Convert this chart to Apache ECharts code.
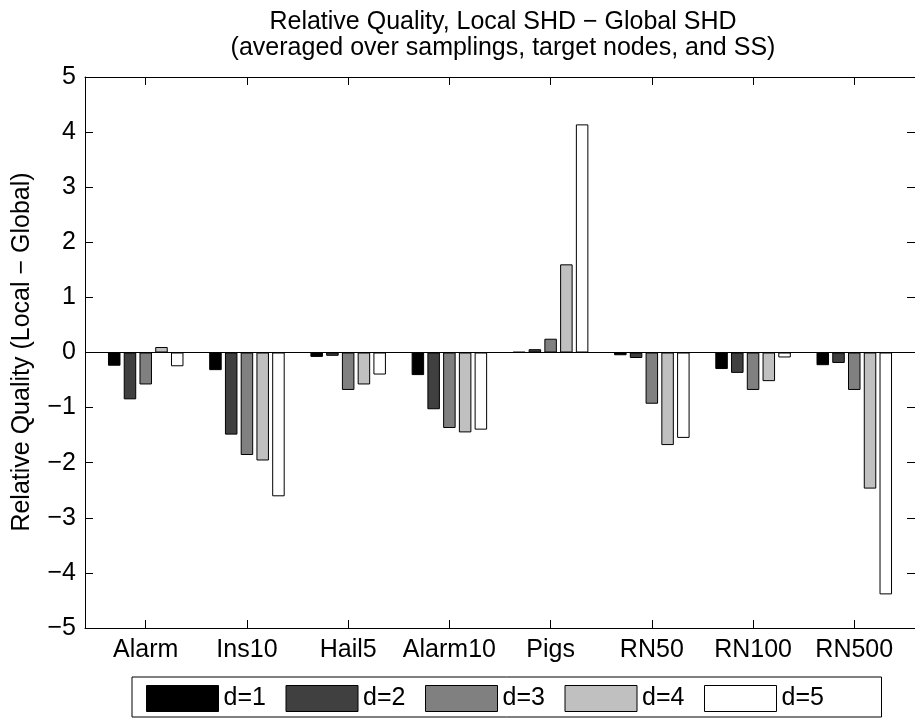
<!DOCTYPE html>
<html>
<head>
<meta charset="utf-8">
<script src="https://cdn.jsdelivr.net/npm/echarts@6/dist/echarts.min.js"></script>
<style>
  html, body { margin: 0; padding: 0; background: #fff; }
  #chart { width: 915px; height: 723px; }
</style>
</head>
<body>
<div id="chart"></div>
<script>
// Networks compared, one group of bars each
const categories = ['Alarm', 'Ins10', 'Hail5', 'Alarm10', 'Pigs', 'RN50', 'RN100', 'RN500'];
const seriesNames = ['d=1', 'd=2', 'd=3', 'd=4', 'd=5'];

// Relative quality (Local SHD - Global SHD) per network, one array per depth d
const d1 = [-0.24, -0.32, -0.08, -0.41, 0.01, -0.05, -0.30, -0.23];
const d2 = [-0.85, -1.49, -0.06, -1.03, 0.06, -0.10, -0.37, -0.19];
const d3 = [-0.58, -1.86, -0.68, -1.37, 0.25, -0.93, -0.68, -0.68];
const d4 = [0.10, -1.96, -0.58, -1.45, 1.60, -1.68, -0.52, -2.47];
const d5 = [-0.25, -2.61, -0.40, -1.40, 4.14, -1.55, -0.09, -4.39];

const yTicks = [-5, -4, -3, -2, -1, 0, 1, 2, 3, 4, 5];

const seriesValues = [d1, d2, d3, d4, d5];
const fills = ['#000000', '#404040', '#808080', '#c0c0c0', '#ffffff'];
const FONT = 'Liberation Sans, Arial, Helvetica, sans-serif';
const FS = 25;

// category positions on the numeric x axis are 1..N
const catPos = categories.map((c, i) => i + 1);
const fmtNum = v => (v < 0 ? '\u2212' + Math.abs(v) : String(v));

const chart = echarts.init(document.getElementById('chart'), null, { renderer: 'canvas' });

const axisLineStyle = { color: '#000', width: 1 };

const option = {
  backgroundColor: '#fff',
  animation: false,
  textStyle: { fontFamily: FONT, color: '#000' },
  grid: { left: 85, top: 77, right: -7, bottom: 95, containLabel: false },
  xAxis: [
    {
      type: 'value', position: 'bottom', min: 0.4, max: 8.6,
      axisLine: { show: true, onZero: false, lineStyle: axisLineStyle },
      axisTick: { show: true, inside: true, length: 8, lineStyle: axisLineStyle, customValues: catPos },
      axisLabel: {
        show: true, customValues: catPos, margin: 10,
        fontSize: FS, fontFamily: FONT, color: '#000',
        formatter: v => categories[Math.round(v) - 1] || ''
      },
      splitLine: { show: false }
    },
    {
      type: 'value', position: 'top', min: 0.4, max: 8.6,
      axisLine: { show: true, onZero: false, lineStyle: axisLineStyle },
      axisTick: { show: true, inside: true, length: 8, lineStyle: axisLineStyle, customValues: catPos },
      axisLabel: { show: false },
      splitLine: { show: false }
    }
  ],
  yAxis: [
    {
      type: 'value', position: 'left', min: yTicks[0], max: yTicks[yTicks.length - 1], interval: 1,
      axisLine: { show: true, onZero: false, lineStyle: axisLineStyle },
      axisTick: { show: true, inside: true, length: 8, lineStyle: axisLineStyle },
      axisLabel: { show: true, margin: 9, fontSize: FS, fontFamily: FONT, color: '#000', formatter: fmtNum },
      splitLine: { show: false }
    },
    {
      type: 'value', position: 'right', min: yTicks[0], max: yTicks[yTicks.length - 1], interval: 1,
      axisLine: { show: true, onZero: false, lineStyle: axisLineStyle },
      axisTick: { show: true, inside: true, length: 8, lineStyle: axisLineStyle },
      axisLabel: { show: false },
      splitLine: { show: false }
    }
  ],
  legend: {
    show: true,
    left: 132, top: 677,
    orient: 'horizontal',
    padding: [8, 48, 5, 14],
    itemWidth: 72, itemHeight: 26, itemGap: 10,
    borderColor: '#000', borderWidth: 1, backgroundColor: '#fff',
    icon: 'rect',
    textStyle: { fontSize: FS, fontFamily: FONT, color: '#000', width: 52, lineHeight: 26 },
    data: seriesNames.map((n, i) => ({
      name: n, icon: 'rect',
      itemStyle: { color: fills[i], borderColor: '#000', borderWidth: 1 }
    }))
  },
  graphic: [
    {
      type: 'text', x: 503, y: 9, z: 10,
      style: {
        text: 'Relative Quality, Local SHD \u2212 Global SHD\n(averaged over samplings, target nodes, and SS)',
        align: 'center', verticalAlign: 'top',
        font: FS + 'px ' + FONT, fill: '#000', lineHeight: 26
      }
    },
    {
      type: 'text', x: 22, y: 352, rotation: Math.PI / 2, z: 10,
      style: {
        text: 'Relative Quality (Local \u2212 Global)',
        align: 'center', verticalAlign: 'middle',
        font: FS + 'px ' + FONT, fill: '#000'
      }
    }
  ],
  series: seriesNames.map((name, s) => ({
    name: name,
    type: 'bar',
    xAxisIndex: 0, yAxisIndex: 0,
    barWidth: 12.5,
    barGap: '26%',
    itemStyle: { color: fills[s], borderColor: '#000', borderWidth: 1 },
    emphasis: { disabled: true },
    data: categories.map((c, i) => [catPos[i], seriesValues[s][i]]),
    markLine: s === 0 ? {
      silent: true, symbol: 'none', label: { show: false },
      lineStyle: { color: '#000', width: 1, type: 'solid' },
      data: [{ yAxis: 0 }]
    } : undefined
  }))
};

chart.setOption(option);
</script>
</body>
</html>
